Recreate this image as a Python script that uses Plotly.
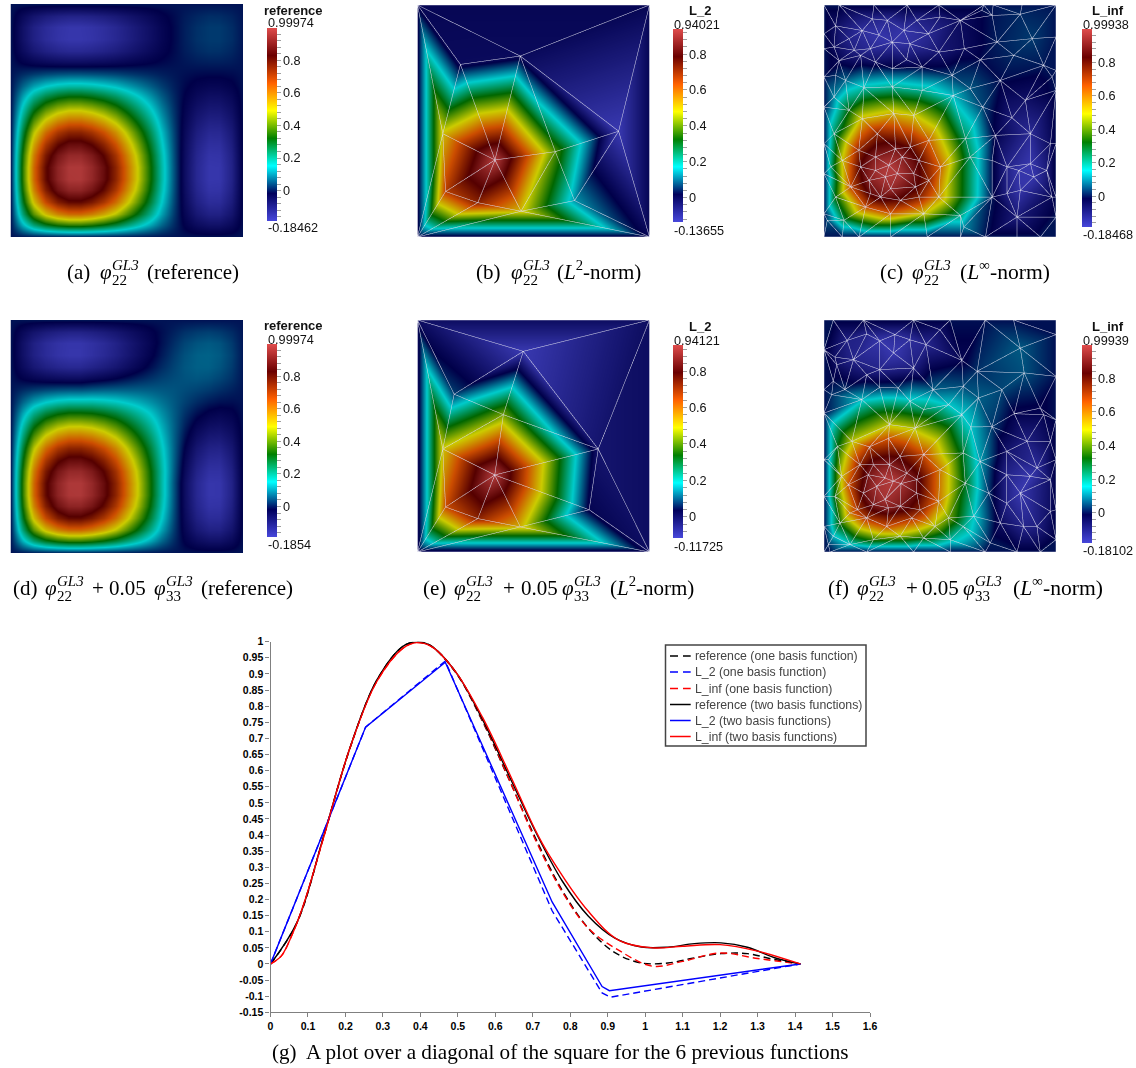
import numpy as np
import plotly.graph_objects as go

W, H = 1136, 1068

# ---------- field tables ----------
grid_t = [0, .05, .10, .15, .20, .25, .30, .35, .40, .45, .50, .55, .60, .65, .70, .75, .80, .85, .90, .95, 1]
z_reference = [
[0]*21,
[0,128,224,293,335,355,356,340,311,271,224,172,119,67,20,-20,-49,-64,-64,-43,0],
[0,224,393,513,587,623,624,596,544,475,392,301,208,117,34,-34,-86,-113,-112,-75,0],
[0,293,513,669,766,812,814,777,710,619,511,393,272,153,45,-45,-112,-147,-146,-98,0],
[0,335,587,766,878,930,932,890,813,709,586,450,311,175,52,-52,-128,-169,-167,-112,0],
[0,355,623,812,930,986,988,943,862,752,621,477,330,186,55,-55,-136,-179,-177,-119,0],
[0,356,624,814,932,988,990,945,864,753,622,478,330,186,55,-55,-136,-179,-177,-119,0],
[0,340,596,777,890,943,945,903,825,719,594,456,315,178,52,-52,-130,-171,-169,-114,0],
[0,311,544,710,813,862,864,825,753,657,543,417,288,162,48,-48,-119,-156,-155,-104,0],
[0,271,475,619,709,752,753,719,657,573,473,363,251,142,42,-42,-104,-136,-135,-91,0],
[0,224,392,511,586,621,622,594,543,473,391,300,208,117,34,-34,-86,-113,-111,-75,0],
[0,172,301,393,450,477,478,456,417,363,300,230,159,90,26,-26,-66,-86,-85,-58,0],
[0,119,208,272,311,330,330,315,288,251,208,159,110,62,18,-18,-45,-60,-59,-40,0],
[0,67,117,153,175,186,186,178,162,142,117,90,62,35,10,-10,-26,-34,-33,-22,0],
[0,20,34,45,52,55,55,52,48,42,34,26,18,10,3,-3,-8,-10,-10,-7,0],
[0,-20,-34,-45,-52,-55,-55,-52,-48,-42,-34,-26,-18,-10,-3,3,8,10,10,7,0],
[0,-49,-86,-112,-128,-136,-136,-130,-119,-104,-86,-66,-45,-26,-8,8,19,25,24,16,0],
[0,-64,-113,-147,-169,-179,-179,-171,-156,-136,-113,-86,-60,-34,-10,10,25,32,32,22,0],
[0,-64,-112,-146,-167,-177,-177,-169,-155,-135,-111,-85,-59,-33,-10,10,24,32,32,21,0],
[0,-43,-75,-98,-112,-119,-119,-114,-104,-91,-75,-58,-40,-22,-7,7,16,22,21,14,0],
[0]*21,
]
second_basis_bump = [
[2,3,5,6,7,8,9,9,9,9,8,6,3],
[3,6,8,10,13,14,16,17,16,16,14,10,6],
[4,8,12,15,18,21,23,24,24,22,20,15,9],
[6,10,15,20,24,27,30,31,31,29,26,20,11],
[7,13,18,24,29,33,36,38,38,35,31,24,14],
[8,14,21,27,33,38,41,43,43,41,36,27,16],
[9,16,23,30,36,41,45,47,47,45,39,30,17],
[9,17,24,31,38,43,47,50,49,47,41,31,18],
[9,16,24,31,38,43,47,49,49,47,41,31,18],
[9,16,22,29,35,41,45,47,47,44,38,29,17],
[8,14,20,26,31,36,39,41,41,38,33,26,15],
[6,10,15,20,24,27,30,31,31,29,26,20,11],
[3,6,9,11,14,16,17,18,18,17,15,11,6],
]

# coarse L2 meshes: vertices, nodal values and triangles
b_u = [0,1,1,0,.443,.185,.109,.334,.594,.867,.677,.446,.260,.121]
b_v = [1,1,0,0,.780,.744,.445,.332,.368,.456,.157,.111,.148,.196]
b_val = [0,0,0,0,-.01,-.01,.50,.94,.38,-.1365,.13,.50,.72,.66]
b_tri = [(0,1,4),(1,2,9),(1,4,9),(0,4,5),(0,5,6),(0,6,3),(4,5,7),(5,6,7),(4,7,8),(4,8,9),(8,9,10),
         (9,10,2),(8,10,11),(10,11,2),(11,3,2),(7,8,11),(7,11,12),(11,12,3),(12,13,3),(7,12,13),(6,7,13),(6,13,3)]
e_u = [0,1,1,0,.456,.158,.109,.333,.370,.779,.740,.443,.260,.121]
e_v = [1,1,0,0,.865,.680,.444,.332,.592,.444,.182,.108,.144,.194]
e_val = [0,0,0,0,-.117,.08,.50,.941,.42,-.02,.02,.52,.72,.64]
e_tri = [(0,1,4),(1,2,9),(1,4,9),(0,4,5),(0,5,6),(0,6,3),(4,5,8),(4,8,9),(5,6,8),(6,7,8),(7,8,9),(7,9,10),
         (9,10,2),(7,10,11),(10,11,2),(11,2,3),(7,11,12),(11,12,3),(12,13,3),(7,12,13),(6,7,13),(6,13,3)]

# fine L-inf meshes (percent of the square side), nodal values
c_u = [0,100,100,0, 6.5,21.5,35.9,49.5,68.9,72.9,85.4, 7.9,15.1,28.7,44.5,58.8,69.6,83.2,93.3, 0,0,0,0,0,0,0, 100,100,100,100,100,100,
10.8,5,16.5,20.8,23.7,27.3,34.4,40,45,50,58.8,68,37,29.4,20,13,4.3,6.5,15.8,22.2,35.6,49.5,60.5,67.4,72.5,84.6,89.7,74.6,81.8,94.7,76,86.8,98.3,63,55.2,42.3,29.4,17.2,9.3,5,4.3,10.8,16.5,29.4,42.3,55.7,68.4,81,89,97.6,73.9,61,45.2,38.7,30.1,23,15,7.9,4.3,2.9,5,1.4,8.6,17.9,28.7,43,60.3,58.8,72.5,78.9,84.6,98.3,83.2,89,84,78.9,90.4,96,72.5,63,50.2,49.5,40.9,33,24.4,20,11.5,19.4,15.8,22.2,28,30.8,37.3,33.7,38.7,31.6,26.5,28.7,22.2,40.9,45.2,39.5]
c_v = [100,100,0,0, 100,100,100,100,100,100,100, 0,0,0,0,0,0,0,0, 87.6,81.2,69,56,40.2,27.3,10, 86.2,71.8,63.2,40.2,17.2,8.6,
85.5,91,89,94,87,93.4,89,93.4,87.6,94.8,93.4,97.7,83.3,84,81.2,80.5,81.9,76,78.3,75.4,76.4,79.7,81.2,76.4,95.5,96,85.5,84,78.3,74,67.5,58.9,69,64,69.7,73.3,72.6,64.4,67.5,69.7,60.3,54.6,51,64.7,63.2,61,56,51.4,44.5,40.2,43.8,42.4,41.7,52.4,53.2,44.5,37.4,33,44.5,30.2,17.2,7.2,7.2,12.9,10,10,4.3,9.3,17.2,18.7,20.1,17.2,8.6,31.6,28.7,30.2,25.9,28.7,33,34.5,30.2,17.2,17.2,15.8,17.2,18.7,21.6,24.4,30.2,34.5,30.9,38,38.8,34.5,27.3,27.3,25.9,20.8,28.7,33,24.4,21.6]
c_val = [0]*32 + [-.12,-.06,-.155,-.12,-.176,-.14,-.17,-.12,-.137,-.08,-.05,-.006,-.156,-.17,-.14,-.11,-.05,-.034,-.097,-.058,-.075,-.086,-.048,-.01,0,.018,.032,.008,.017,.004,-.008,-.065,-.003,.055,.03,-.016,0,.18,.07,.02,.10,.32,.52,.2,.2,.14,.04,-.09,-.14,-.05,-.025,.245,.63,.50,.53,.75,.75,.50,.24,.22,.32,.05,.26,.66,.63,.50,.10,.22,0,-.11,-.17,-.036,-.094,-.18,-.175,-.12,-.175,-.10,0,.24,.625,.57,.76,.81,.88,.855,.67,.915,.84,.92,.995,.89,.81,.92,.89,.99,.99,.95,.96,.825,.745,.845]

f_u = [0,100,100,0, 4,17,38.6,54.4,69.5,81.7, 2.6,18.4,38.6,54.4,69.5,83.2,93.2, 0,0,0,0,0,0, 100,100,100,100,100,100,
10,4.7,18.4,24,30.6,37,44,50,59.4,66,84.6,86.3,76.7,66.6,60,47,38.6,30,24,18.4,12.7,5.5,4,3.3,9,16.3,24,32,37,43,53.7,59.4,63.3,82,93.2,94.7,72.4,78.8,87.5,97.6,91.8,88.9,78.8,84.6,71,97.6,86,76,78.8,60,64.5,54.4,42.9,32.8,21.3,11.2,4,1.9,6.9,4.7,1.9,7.6,10.5,5.8,12,19.6,27.8,28.2,39.3,32.8,42.9,50,60,60.9,53.7,47.9,49.4,41.4,40,33.2,40,35.7,28.2,19.1,15.5,14.4,21.3,26.3,29.9,22.7,17,26.3,32.8,27.8,21.3,18.4,27,37.8,11.2,67.3,97.6,71.7,91.8]
f_v = [100,100,0,0, 100,100,100,100,100,100, 0,0,0,0,0,0,0, 87.2,70,59.9,39.8,24,11, 93.7,75.7,57,39.8,18.2,5.3,
91.2,84,94,91,93.7,91.5,89.4,95.8,82.6,77.9,87.9,77.2,70,66.4,71.4,70,79.3,85.8,78.6,76.4,82.9,80.7,73.6,67.8,70,65.7,71,70.7,65,61.4,63.5,59.2,53.9,59.6,62,59.2,54,43.4,47.7,47.7,36.2,32.6,33.3,25.4,25.4,17.5,11,12.5,21,11,15.4,5.3,6,6.8,5.3,3.2,6.8,3.2,12.5,24,39.8,32.6,29,45.5,47.7,45.3,49,54.9,53.4,41.2,42,35.5,42.7,29.7,14.7,11,21.8,18.2,25.4,29.5,31.2,34,37.6,33.3,37.6,18.2,37.6,31.9,30.5,28.3,25.4,22.6,19.7,19,20.4,14.7,11,14.7,16.8,39,31.2,3.9,11]
f_val = [0]*29 + [-.11,-.06,-.12,-.17,-.14,-.148,-.126,-.06,-.026,.026,.062,.054,.045,.067,.05,.068,-.10,-.18,-.118,-.073,-.12,-.057,-.006,.028,.03,.145,.03,.04,.18,.25,.155,.16,.153,-.023,-.02,-.027,.036,-.07,-.104,-.04,-.143,-.178,-.116,-.178,.03,-.053,-.12,-.05,-.114,.22,.166,.19,.335,.45,.36,.16,.14,.03,.34,.33,.11,.5,.65,.315,.48,.70,.65,.48,.47,.82,.67,.60,.29,.30,.42,.455,.61,.76,.86,.97,.87,.90,.92,.89,.76,.71,.88,.99,.999,.97,.87,.97,.90,.92,.90,.72,.66,.72,.6,.12,-.06,.01,-.105]

# ---------- diagonal plot ----------
x_tick_vals = [0,.1,.2,.3,.4,.5,.6,.7,.8,.9,1,1.1,1.2,1.3,1.4,1.5,1.6]
x_tick_text = ["0","0.1","0.2","0.3","0.4","0.5","0.6","0.7","0.8","0.9","1","1.1","1.2","1.3","1.4","1.5","1.6"]
y_tick_vals = [1,.95,.9,.85,.8,.75,.7,.65,.6,.55,.5,.45,.4,.35,.3,.25,.2,.15,.1,.05,0,-.05,-.1,-.15]
y_tick_text = ["1","0.95","0.9","0.85","0.8","0.75","0.7","0.65","0.6","0.55","0.5","0.45","0.4","0.35","0.3","0.25","0.2","0.15","0.1","0.05","0","-0.05","-0.1","-0.15"]

ref_s = [0,.0707,.1414,.2121,.2828,.3536,.39,.4243,.495,.5657,.6364,.7071,.7778,.8485,.9192,.9899,1.0607,1.1314,1.2021,1.2728,1.3435,1.4142]
ref_one = [0,.128,.393,.669,.878,.986,.999,.990,.903,.753,.573,.391,.230,.110,.035,.003,.003,.019,.032,.032,.014,0]
ref_two = [0,.129,.395,.671,.879,.986,.999,.990,.905,.759,.585,.411,.259,.148,.080,.0525,.052,.063,.0655,.052,.020,0]
l2_s_one = [0,.2538,.4665,.7516,.885,.908,1.414]
l2_one = [0,.735,.94,.165,-.09,-.103,0]
l2_s_two = [0,.2538,.4665,.7516,.885,.9045,1.414]
l2_two = [0,.735,.936,.1925,-.07,-.083,0]
linf_s_one = [0,.029,.057,.09,.141,.212,.283,.354,.39,.43,.495,.566,.636,.707,.778,.849,.93,1.02,1.1,1.2,1.3,1.414]
linf_one = [0,.025,.089,.19,.39,.67,.875,.98,.997,.985,.905,.755,.575,.385,.225,.11,.042,-.007,.008,.034,.017,0]
linf_s_two = [0,.029,.057,.09,.141,.212,.283,.354,.39,.43,.495,.566,.636,.707,.74,.85,.93,1.02,1.1,1.2,1.3,1.414]
linf_two = [0,.025,.089,.19,.39,.67,.875,.98,.997,.985,.905,.765,.595,.415,.345,.161,.0735,.05,.055,.06,.04,0]

# ---------- colour maps: the bar shows the full map, the lit surfaces a darker copy ----------
rainbow_rgb = [(71,71,219),(0,0,92),(0,255,255),(0,128,0),(255,255,0),(255,97,0),(107,0,0),(224,76,76)]
rainbow = [[i/7, "rgb(%d,%d,%d)" % c] for i, c in enumerate(rainbow_rgb)]
SHADE = .8
rainbow_lit = [[i/7, "rgb(%d,%d,%d)" % tuple(int(v*SHADE) for v in c)] for i, c in enumerate(rainbow_rgb)]

SANS = "Liberation Sans"
SERIF = "Liberation Serif"
fx = lambda px: px / W
fy = lambda py: 1 - py / H

def colorbar(x, y0, y1, lo, hi):
    vals = [round(v, 2) for v in np.arange(-0.2, 1.0001, .04) if lo <= v <= hi]
    text = [("%g" % v) if abs(round(v / .2) * .2 - v) < 1e-6 else "" for v in vals]
    return dict(x=fx(x), xanchor="left", xpad=0, y=fy(y0), yanchor="top", ypad=0,
                thicknessmode="pixels", thickness=10, lenmode="pixels", len=y1 - y0,
                outlinewidth=0, ticks="outside", ticklen=4, tickwidth=1, tickcolor="#a0a0a0",
                tickmode="array", tickvals=vals, ticktext=text,
                tickfont=dict(family=SANS, size=12.7, color="#111"))

fig = go.Figure()
ann = []
shapes = []
def label(px, py, text, size=13, anchor="left", family=SANS, color="#111"):
    ann.append(dict(x=fx(px), y=fy(py), xref="paper", yref="paper", text=text, showarrow=False,
                    xanchor=anchor, yanchor="middle", borderpad=0,
                    font=dict(family=family, size=size, color=color)))

panels = [
  ("a", (10.5,243,4,237),    (267,27.7,220.7),  "reference", 293, 10.3, 23.3, 228.3, "0.99974","-0.18462", .99974,-.18462),
  ("b", (417,649.5,4.5,236.5),(673.3,29,222.3), "L_2",       700, 11,   25,   230.7, "0.94021","-0.13655", .94021,-.13655),
  ("c", (823.5,1055.7,4.7,236.7),(1081.7,29,226.7),"L_inf",  1108,11,   25,   234.7, "0.99938","-0.18468", .99938,-.18468),
  ("d", (10.5,243,320,553),  (267,343.7,536.7), "reference", 293, 326,  340,  544.7, "0.99974","-0.1854",  .99974,-.1854),
  ("e", (417,649.5,320.3,552.3),(673.3,345.3,538.7),"L_2",   700, 326.7,340.7,546.7, "0.94121","-0.11725", .94121,-.11725),
  ("f", (824,1055.7,320.3,552.3),(1081.7,345,542.7),"L_inf", 1108,326.7,340.7,550.7, "0.99939","-0.18102", .99939,-.18102),
]

def delaunay(px, py):
    n = len(px)
    pts = [(float(a), float(b)) for a, b in zip(px, py, strict=True)] + [(-5000., -5000.), (5000., -5000.), (0., 6000.)]
    def in_circle(t, p):
        a, b, c = (pts[i] for i in t)
        ax, ay = a[0]-p[0], a[1]-p[1]
        bx, by = b[0]-p[0], b[1]-p[1]
        cx, cy = c[0]-p[0], c[1]-p[1]
        det = (ax*ax+ay*ay)*(bx*cy-cx*by) - (bx*bx+by*by)*(ax*cy-cx*ay) + (cx*cx+cy*cy)*(ax*by-bx*ay)
        orient = (b[0]-a[0])*(c[1]-a[1]) - (b[1]-a[1])*(c[0]-a[0])
        return det * (1 if orient > 0 else -1) > 1e-9
    tris = [(n, n+1, n+2)]
    for idx in range(n):
        bad = [t for t in tris if in_circle(t, pts[idx])]
        edges = {}
        for t in bad:
            for e in ((t[0],t[1]),(t[1],t[2]),(t[2],t[0])):
                key = tuple(sorted(e))
                edges[key] = edges.get(key, 0) + 1
        tris = [t for t in tris if t not in bad]
        for (p, q), cnt in edges.items():
            if cnt == 1:
                tris.append((p, q, idx))
    return [t for t in tris if max(t) < n]

def mesh_panel(sid, box, u, v, val, tri, lo, hi):
    x0, x1, y0, y1 = box
    i, j, k = zip(*tri)
    fig.add_trace(go.Mesh3d(x=u, y=v, z=[0]*len(u), intensity=val, i=i, j=j, k=k, colorscale=rainbow_lit,
                            cmin=lo, cmax=hi, showscale=False, scene=sid, hoverinfo="skip",
                            lighting=dict(ambient=1, diffuse=0, specular=0, roughness=1, fresnel=0)))
    ex, ey = [], []
    seen = set()
    for t in tri:
        for a, b in ((t[0],t[1]),(t[1],t[2]),(t[2],t[0])):
            key = tuple(sorted((a, b)))
            if key not in seen:
                seen.add(key)
                ex += [u[a], u[b], None]
                ey += [v[a], v[b], None]
    fig.add_trace(go.Scatter3d(x=ex, y=ey, z=[0.5 if e is not None else None for e in ex], mode="lines",
                               line=dict(color="#dcdcec", width=1), scene=sid,
                               hoverinfo="skip", showlegend=False))
    ax = dict(visible=False, showgrid=False, zeroline=False, showbackground=False, showspikes=False)
    fig.update_layout({sid: dict(
        domain=dict(x=[fx(x0), fx(x1)], y=[fy(y1), fy(y0)]),
        xaxis=dict(ax, range=[0, 1]), yaxis=dict(ax, range=[0, 1]), zaxis=dict(ax, range=[-1, 1]),
        aspectmode="manual", aspectratio=dict(x=2, y=2, z=.2), bgcolor="white", dragmode=False,
        camera=dict(projection=dict(type="orthographic"), eye=dict(x=0, y=0, z=1), up=dict(x=0, y=1, z=0),
                    center=dict(x=0, y=0, z=0)))})

z_a = np.array(z_reference) / 1000
z_d = z_a.copy()
z_d[7:20, 7:20] += np.array(second_basis_bump) / 1000

for name, box, (cx, cy0, cy1), title, tx, ty, mx, mn, hi_s, lo_s, hi, lo in panels:
    if name in "ad":
        n = "" if name == "a" else "2"
        fig.add_trace(go.Heatmap(x=grid_t, y=grid_t, z=z_a if name == "a" else z_d, zsmooth="best", colorscale=rainbow_lit,
                                 zmin=lo, zmax=hi, showscale=False, xaxis="x"+n, yaxis="y"+n, hoverinfo="skip"))
        hid = dict(visible=False, range=[0, 1])
        fig.update_layout({"xaxis"+n: dict(hid, domain=[fx(box[0]), fx(box[1])], anchor="y"+n),
                           "yaxis"+n: dict(hid, domain=[fy(box[3]), fy(box[2])], anchor="x"+n)})
    elif name == "b":
        mesh_panel("scene", box, b_u, b_v, b_val, b_tri, lo, hi)
    elif name == "e":
        mesh_panel("scene3", box, e_u, e_v, e_val, e_tri, lo, hi)
    elif name == "c":
        u = [a/100 for a in c_u]; v = [a/100 for a in c_v]
        mesh_panel("scene2", box, u, v, c_val, delaunay(u, v), lo, hi)
    else:
        u = [a/100 for a in f_u]; v = [a/100 for a in f_v]
        mesh_panel("scene4", box, u, v, f_val, delaunay(u, v), lo, hi)
    # the scale bar itself, carried by an empty marker trace so it can keep the full-brightness map
    fig.add_trace(go.Scatter(x=[None, None], y=[None, None], mode="markers", xaxis="x3", yaxis="y3", showlegend=False,
                             hoverinfo="skip", marker=dict(color=[lo, hi], cmin=lo, cmax=hi, colorscale=rainbow,
                                                           showscale=True, colorbar=colorbar(cx, cy0, cy1, lo, hi))))
    label(tx, ty, "<b>%s</b>" % title, anchor="center")
    label(cx, mx, hi_s, size=12.7)
    label(cx, mn, lo_s, size=12.7)

# ---------- captions ----------
def cap(px, py, text, size=21):
    label(px, py, text, size=size, family=SERIF, color="#000")
def phi(px, py, sub):
    cap(px, py, "<i>φ</i>")
    cap(px + 12, py - 7.5, "<i>GL3</i>", 15)
    cap(px + 12, py + 8, sub, 15)

NORM2 = "(<i>L</i><sup>2</sup>-norm)"
NORM_INF = "(<i>L</i><sup>∞</sup>-norm)"
cap(66, 272, "(a)");  phi(99, 272, "22");  cap(146, 272, "(reference)")
cap(475, 272, "(b)"); phi(510, 272, "22"); cap(556, 270.5, NORM2)
cap(879, 272, "(c)"); phi(911, 272, "22"); cap(959, 270.5, NORM_INF, 21.6)
for x_lbl, lbl, x1, xplus, x05, x2, xtail, tail, ty, ts in [
    (12, "(d)", 44, 91, 108, 153, 200, "(reference)", 588, 21),
    (422, "(e)", 453, 502, 520, 561, 609, NORM2, 586.5, 21),
    (827, "(f)", 856, 905, 921, 962, 1012, NORM_INF, 586.5, 21.6)]:
    cap(x_lbl, 588, lbl); phi(x1, 588, "22"); cap(xplus, 588, "+"); cap(x05, 588, "0.05")
    phi(x2, 588, "33"); cap(xtail, ty, tail, ts)
cap(271, 1052, "(g)", 21)
cap(305, 1052, "A plot over a diagonal of the square for the 6 previous functions", 21.2)

# ---------- line chart ----------
DASH = "7px,4px"
series = [
    ("reference (one basis function)", ref_s, ref_one, "#000000", DASH, "spline"),
    ("L_2 (one basis function)", l2_s_one, l2_one, "#0000ff", DASH, "linear"),
    ("L_inf (one basis function)", linf_s_one, linf_one, "#ff0000", DASH, "spline"),
    ("reference (two basis functions)", ref_s, ref_two, "#000000", "solid", "spline"),
    ("L_2 (two basis functions)", l2_s_two, l2_two, "#0000ff", "solid", "linear"),
    ("L_inf (two basis functions)", linf_s_two, linf_two, "#ff0000", "solid", "spline")]
for nm, s, val, col, dash, shape in series:
    fig.add_trace(go.Scatter(x=s, y=val, name=nm, mode="lines", xaxis="x3", yaxis="y3", showlegend=False,
                             line=dict(color=col, width=1.4, dash=dash, shape=shape)))

# legend box, built to the reference's tight row spacing
legend_rows = [656, 672, 688.5, 704.5, 720.5, 736.5]
shapes.append(dict(type="rect", xref="paper", yref="paper", x0=fx(665.5), x1=fx(866), y0=fy(746), y1=fy(645),
                   fillcolor="white", line=dict(color="#444", width=1.5), layer="above"))
for (nm, s, val, col, dash, shape), ry in zip(series, legend_rows):
    shapes.append(dict(type="line", xref="paper", yref="paper", x0=fx(670), x1=fx(690.7), y0=fy(ry), y1=fy(ry),
                       layer="above", line=dict(color=col, width=1.5, dash="8px,5px" if dash != "solid" else "solid")))
    label(694, ry, nm, size=12.3, color="#444")

tick_font = dict(family=SANS, size=10.5, color="#000", weight="bold")
fig.update_layout(
    width=W, height=H, autosize=False, margin=dict(l=0, r=0, t=0, b=0, autoexpand=False), paper_bgcolor="white", plot_bgcolor="white",
    xaxis3=dict(domain=[fx(270.5), fx(870)], range=[0, 1.6], anchor="y3", tickmode="array", tickvals=x_tick_vals,
                ticktext=x_tick_text, ticks="outside", ticklen=4, tickcolor="#808080", showline=True, linecolor="#808080",
                linewidth=1.2, showgrid=False, zeroline=False, tickfont=tick_font),
    yaxis3=dict(domain=[fy(1012.3), fy(641.7)], range=[-.15, 1], anchor="x3", tickmode="array", tickvals=y_tick_vals,
                ticktext=y_tick_text, ticks="outside", ticklen=4, tickcolor="#808080", showline=True, linecolor="#808080",
                linewidth=1.2, showgrid=False, zeroline=False, tickfont=tick_font),
    showlegend=False,
    annotations=ann, shapes=shapes,
)

fig.write_html("out.html", post_script="document.body.style.margin='0';", config={"displayModeBar": False})
